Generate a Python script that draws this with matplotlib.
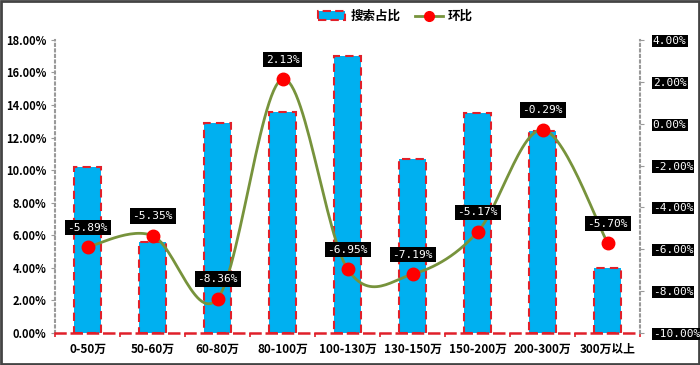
import numpy as np
import matplotlib
matplotlib.use('Agg')
import matplotlib.pyplot as plt
from matplotlib.patches import Patch, Rectangle
from matplotlib.lines import Line2D

plt.rcParams['font.family'] = ['Noto Sans CJK SC', 'DejaVu Sans']

categories = ['0-50万', '50-60万', '60-80万', '80-100万', '100-130万',
              '130-150万', '150-200万', '200-300万', '300万以上']
share = [10.2, 5.6, 12.9, 13.6, 17.0, 10.7, 13.5, 12.4, 4.0]        # 搜索占比 (%)
mom = [-5.89, -5.35, -8.36, 2.13, -6.95, -7.19, -5.17, -0.29, -5.70]  # 环比 (%)

bar_color = '#00B0F0'
edge_color = '#E0202A'
line_color = '#77933C'


def smooth(xs, ys, n=30):
    # Excel-style smoothed line (Catmull-Rom bezier through the points)
    xs = np.asarray(xs, float)
    ys = np.asarray(ys, float)
    px = np.concatenate([[xs[0]], xs, [xs[-1]]])
    py = np.concatenate([[ys[0]], ys, [ys[-1]]])
    ox, oy = [], []
    t = np.linspace(0, 1, n)
    for i in range(1, len(px) - 2):
        p0 = np.array([px[i], py[i]])
        p3 = np.array([px[i + 1], py[i + 1]])
        c1 = p0 + (np.array([px[i + 1], py[i + 1]]) - np.array([px[i - 1], py[i - 1]])) / 6
        c2 = p3 - (np.array([px[i + 2], py[i + 2]]) - np.array([px[i], py[i]])) / 6
        b = ((1 - t) ** 3)[:, None] * p0 + (3 * (1 - t) ** 2 * t)[:, None] * c1 \
            + (3 * (1 - t) * t ** 2)[:, None] * c2 + (t ** 3)[:, None] * p3
        ox.extend(b[:, 0])
        oy.extend(b[:, 1])
    return ox, oy


fig = plt.figure(figsize=(7, 3.65), dpi=100)
ax = fig.add_axes([0.0786, 0.0877, 0.836, 0.803])
ax2 = ax.twinx()

x = np.arange(len(categories))
ax.bar(x, share, width=0.42, color=bar_color, edgecolor=edge_color,
       linewidth=1.5, linestyle=(0, (4, 2.5)), zorder=2)
ax.set_xlim(-0.5, len(categories) - 0.5)
ax.set_ylim(0, 18)
ax.set_yticks(np.arange(0, 19, 2))
ax.set_yticklabels([f'{v:.2f}%' for v in np.arange(0, 19, 2)],
                   fontsize=8, fontweight='bold')
ax.set_xticks(x)
ax.set_xticklabels(categories, fontsize=8.5, fontweight='bold')
ax.set_xticks(np.arange(-0.5, len(categories), 1), minor=True)
ax.tick_params(axis='x', which='major', length=0, pad=7)
ax.tick_params(axis='x', which='minor', length=3, color=edge_color, width=1.2)
ax.tick_params(axis='y', length=3, color='#999999', pad=3)

for s in ['top']:
    ax.spines[s].set_visible(False)
    ax2.spines[s].set_visible(False)
ax.spines['bottom'].set_color(edge_color)
ax.spines['bottom'].set_linestyle((0, (4, 2.5)))
ax.spines['bottom'].set_linewidth(1.8)
ax2.spines['bottom'].set_visible(False)
ax.spines['left'].set_color('#999999')
ax.spines['left'].set_linestyle(':')
ax.spines['left'].set_linewidth(1.5)
ax.spines['right'].set_visible(False)
ax2.spines['left'].set_visible(False)
ax2.spines['right'].set_color('#999999')
ax2.spines['right'].set_linestyle(':')
ax2.spines['right'].set_linewidth(1.5)

sx, sy = smooth(x, mom)
ax2.plot(sx, sy, color=line_color, linewidth=2.0, zorder=3)
ax2.plot(x, mom, 'o', color='red', markersize=9, zorder=4)
ax2.set_ylim(-10, 4)
ax2.set_yticks(np.arange(-10, 5, 2))
ax2.set_yticklabels([f'{v:.2f}%' for v in np.arange(-10, 5, 2)],
                    fontsize=8, color='white', family='DejaVu Sans Mono')
ax2.tick_params(axis='y', length=3, color='#999999', pad=6)
for lbl in ax2.get_yticklabels():
    lbl.set_bbox(dict(facecolor='black', edgecolor='none', pad=0.8))

for xi, v in zip(x, mom):
    ax2.annotate(f'{v:.2f}%', (xi, v), xytext=(0, 14), textcoords='offset points',
                 ha='center', va='center', fontsize=8, color='white',
                 family='DejaVu Sans Mono', zorder=6,
                 bbox=dict(facecolor='black', edgecolor='none', pad=2))

ax.set_zorder(1)
ax2.set_zorder(2)
ax2.patch.set_visible(False)

handles = [Patch(facecolor=bar_color, edgecolor=edge_color, linewidth=1.5,
                 linestyle=(0, (4, 2))),
           Line2D([0], [0], color=line_color, linewidth=2.0, marker='o',
                  markersize=7, markerfacecolor='red', markeredgecolor='red')]
fig.legend(handles, ['搜索占比', '环比'], loc='center', ncol=2,
           bbox_to_anchor=(0.565, 0.955), frameon=False,
           prop={'size': 9, 'weight': 'bold'}, handlelength=2.2,
           columnspacing=1.2, handletextpad=0.4)

fig.patches.append(Rectangle((0.002, 0.004), 0.996, 0.992, transform=fig.transFigure,
                             fill=False, edgecolor='#444444', linewidth=2))

fig.savefig('out.png', dpi=100)
